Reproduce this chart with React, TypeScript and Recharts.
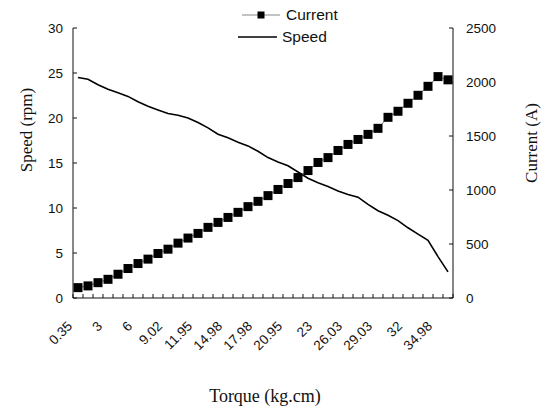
import { ComposedChart, Line, XAxis, YAxis, Label } from "recharts";

const torque = [
  0.35, 1.2, 2.1, 3, 4, 5, 6, 7, 8, 9.02, 10, 11, 11.95, 13, 14, 14.98, 16, 17, 17.98, 19,
  20, 20.95, 21.6, 22.3, 23, 24, 25, 26.03, 27, 28, 29.03, 30, 31, 32, 33, 34, 34.98, 36,
];
const speed = [
  24.5, 24.3, 23.7, 23.2, 22.8, 22.4, 21.8, 21.3, 20.9, 20.5, 20.3, 20.0, 19.5, 18.9, 18.2,
  17.8, 17.3, 16.9, 16.3, 15.6, 15.1, 14.7, 14.0, 13.3, 12.8, 12.4, 11.9, 11.5, 11.2, 10.4,
  9.7, 9.2, 8.6, 7.8, 7.1, 6.4, 4.6, 2.9,
];
const current = [
  96, 112, 142, 173, 220, 273, 319, 360, 412, 452, 508, 555, 598, 654, 700, 746, 793, 846,
  895, 948, 1005, 1060, 1115, 1180, 1255, 1300, 1366, 1422, 1468, 1515, 1571, 1673, 1729,
  1803, 1877, 1960, 2050, 2020,
];
const speedTicks = [0, 5, 10, 15, 20, 25, 30];
const currentTicks = [0, 500, 1000, 1500, 2000, 2500];

const data = torque.map((t, i) => ({
  torque: String(t),
  speed: speed[i],
  current: current[i],
}));

const SANS = "'Liberation Sans', Arial, sans-serif";
const SERIF = "'Liberation Serif', 'Times New Roman', serif";
const INK = "#111";

function LeftTick({ x, y, payload }: any) {
  return (
    <g>
      <line x1={x} x2={x + 4} y1={y} y2={y} stroke={INK} />
      <text x={x - 10} y={y} dy="0.36em" textAnchor="end" fontSize={13.5} fontFamily={SANS} fill={INK}>
        {payload.value}
      </text>
    </g>
  );
}

function RightTick({ x, y, payload }: any) {
  return (
    <g>
      <line x1={x - 4} x2={x} y1={y} y2={y} stroke={INK} />
      <text x={x + 13} y={y} dy="0.36em" textAnchor="start" fontSize={13.5} fontFamily={SANS} fill={INK}>
        {payload.value}
      </text>
    </g>
  );
}

// ticks sit between categories (Excel style), labels on every 3rd category
function BottomTick({ x, y, payload, index }: any) {
  const last = index === torque.length - 1;
  return (
    <g>
      <line x1={x - 5} x2={x - 5} y1={y} y2={y - 4} stroke={INK} />
      {last && <line x1={x + 5} x2={x + 5} y1={y} y2={y - 4} stroke={INK} />}
      {index % 3 === 0 && (
        <text
          transform={`translate(${x - 5},${y + 29}) rotate(-45)`}
          textAnchor="end"
          fontSize={13.5}
          fontFamily={SANS}
          fill={INK}
        >
          {payload.value}
        </text>
      )}
    </g>
  );
}

function SquareDot({ cx, cy, index }: any) {
  return <rect key={`sq-${index}`} x={cx - 4.5} y={cy - 4.5} width={9} height={9} fill="#000" />;
}

function ChartLegend() {
  const row = { display: "flex", alignItems: "center", height: 22 } as const;
  return (
    <div style={{ position: "absolute", left: 238, top: 4, fontFamily: SANS, fontSize: 15.5, color: INK }}>
      <div style={{ ...row, marginLeft: 4 }}>
        <svg width={40} height={10}>
          <line x1={0} x2={38} y1={5} y2={5} stroke="#888" />
          <rect x={15.5} y={1.5} width={7} height={7} fill="#000" />
        </svg>
        <span style={{ marginLeft: 4 }}>Current</span>
      </div>
      <div style={row}>
        <svg width={40} height={10}>
          <line x1={0} x2={39} y1={5} y2={5} stroke="#000" strokeWidth={1.6} />
        </svg>
        <span style={{ marginLeft: 4 }}>Speed</span>
      </div>
    </div>
  );
}

export default function App() {
  return (
    <div style={{ position: "absolute", left: 0, top: 0, width: 548, height: 412, background: "#fff" }}>
      <ComposedChart width={548} height={412} data={data} margin={{ top: 28, right: 0, bottom: 0, left: 0 }}>
        <XAxis
          dataKey="torque"
          scale="band"
          height={114}
          interval={0}
          tickSize={0}
          tickMargin={0}
          axisLine={{ stroke: INK }}
          tickLine={false}
          tick={<BottomTick />}
        >
          <Label
            content={() => (
              <text x={265} y={396} dy="0.35em" textAnchor="middle" fontSize={18} fontFamily={SERIF} fill={INK}>
                Torque (kg.cm)
              </text>
            )}
          />
        </XAxis>
        <YAxis
          yAxisId="left"
          orientation="left"
          width={73}
          domain={[0, 30]}
          ticks={speedTicks}
          interval={0}
          tickSize={0}
          tickMargin={0}
          axisLine={{ stroke: INK }}
          tickLine={false}
          tick={<LeftTick />}
        >
          <Label
            content={() => (
              <text
                transform="translate(26,130) rotate(-90)"
                dy="0.35em"
                textAnchor="middle"
                fontSize={17}
                fontFamily={SERIF}
                fill={INK}
              >
                Speed (rpm)
              </text>
            )}
          />
        </YAxis>
        <YAxis
          yAxisId="right"
          orientation="right"
          width={95}
          domain={[0, 2500]}
          ticks={currentTicks}
          interval={0}
          tickSize={0}
          tickMargin={0}
          axisLine={{ stroke: INK }}
          tickLine={false}
          tick={<RightTick />}
        >
          <Label
            content={() => (
              <text
                transform="translate(531,143) rotate(-90)"
                dy="0.35em"
                textAnchor="middle"
                fontSize={17}
                fontFamily={SERIF}
                fill={INK}
              >
                Current (A)
              </text>
            )}
          />
        </YAxis>
        <Line
          yAxisId="left"
          dataKey="speed"
          name="Speed"
          type="linear"
          stroke="#000"
          strokeWidth={1.6}
          dot={false}
          activeDot={false}
          isAnimationActive={false}
        />
        <Line
          yAxisId="right"
          dataKey="current"
          name="Current"
          type="linear"
          stroke="#777"
          strokeWidth={1}
          dot={<SquareDot />}
          activeDot={false}
          isAnimationActive={false}
        />
      </ComposedChart>
      <ChartLegend />
    </div>
  );
}
